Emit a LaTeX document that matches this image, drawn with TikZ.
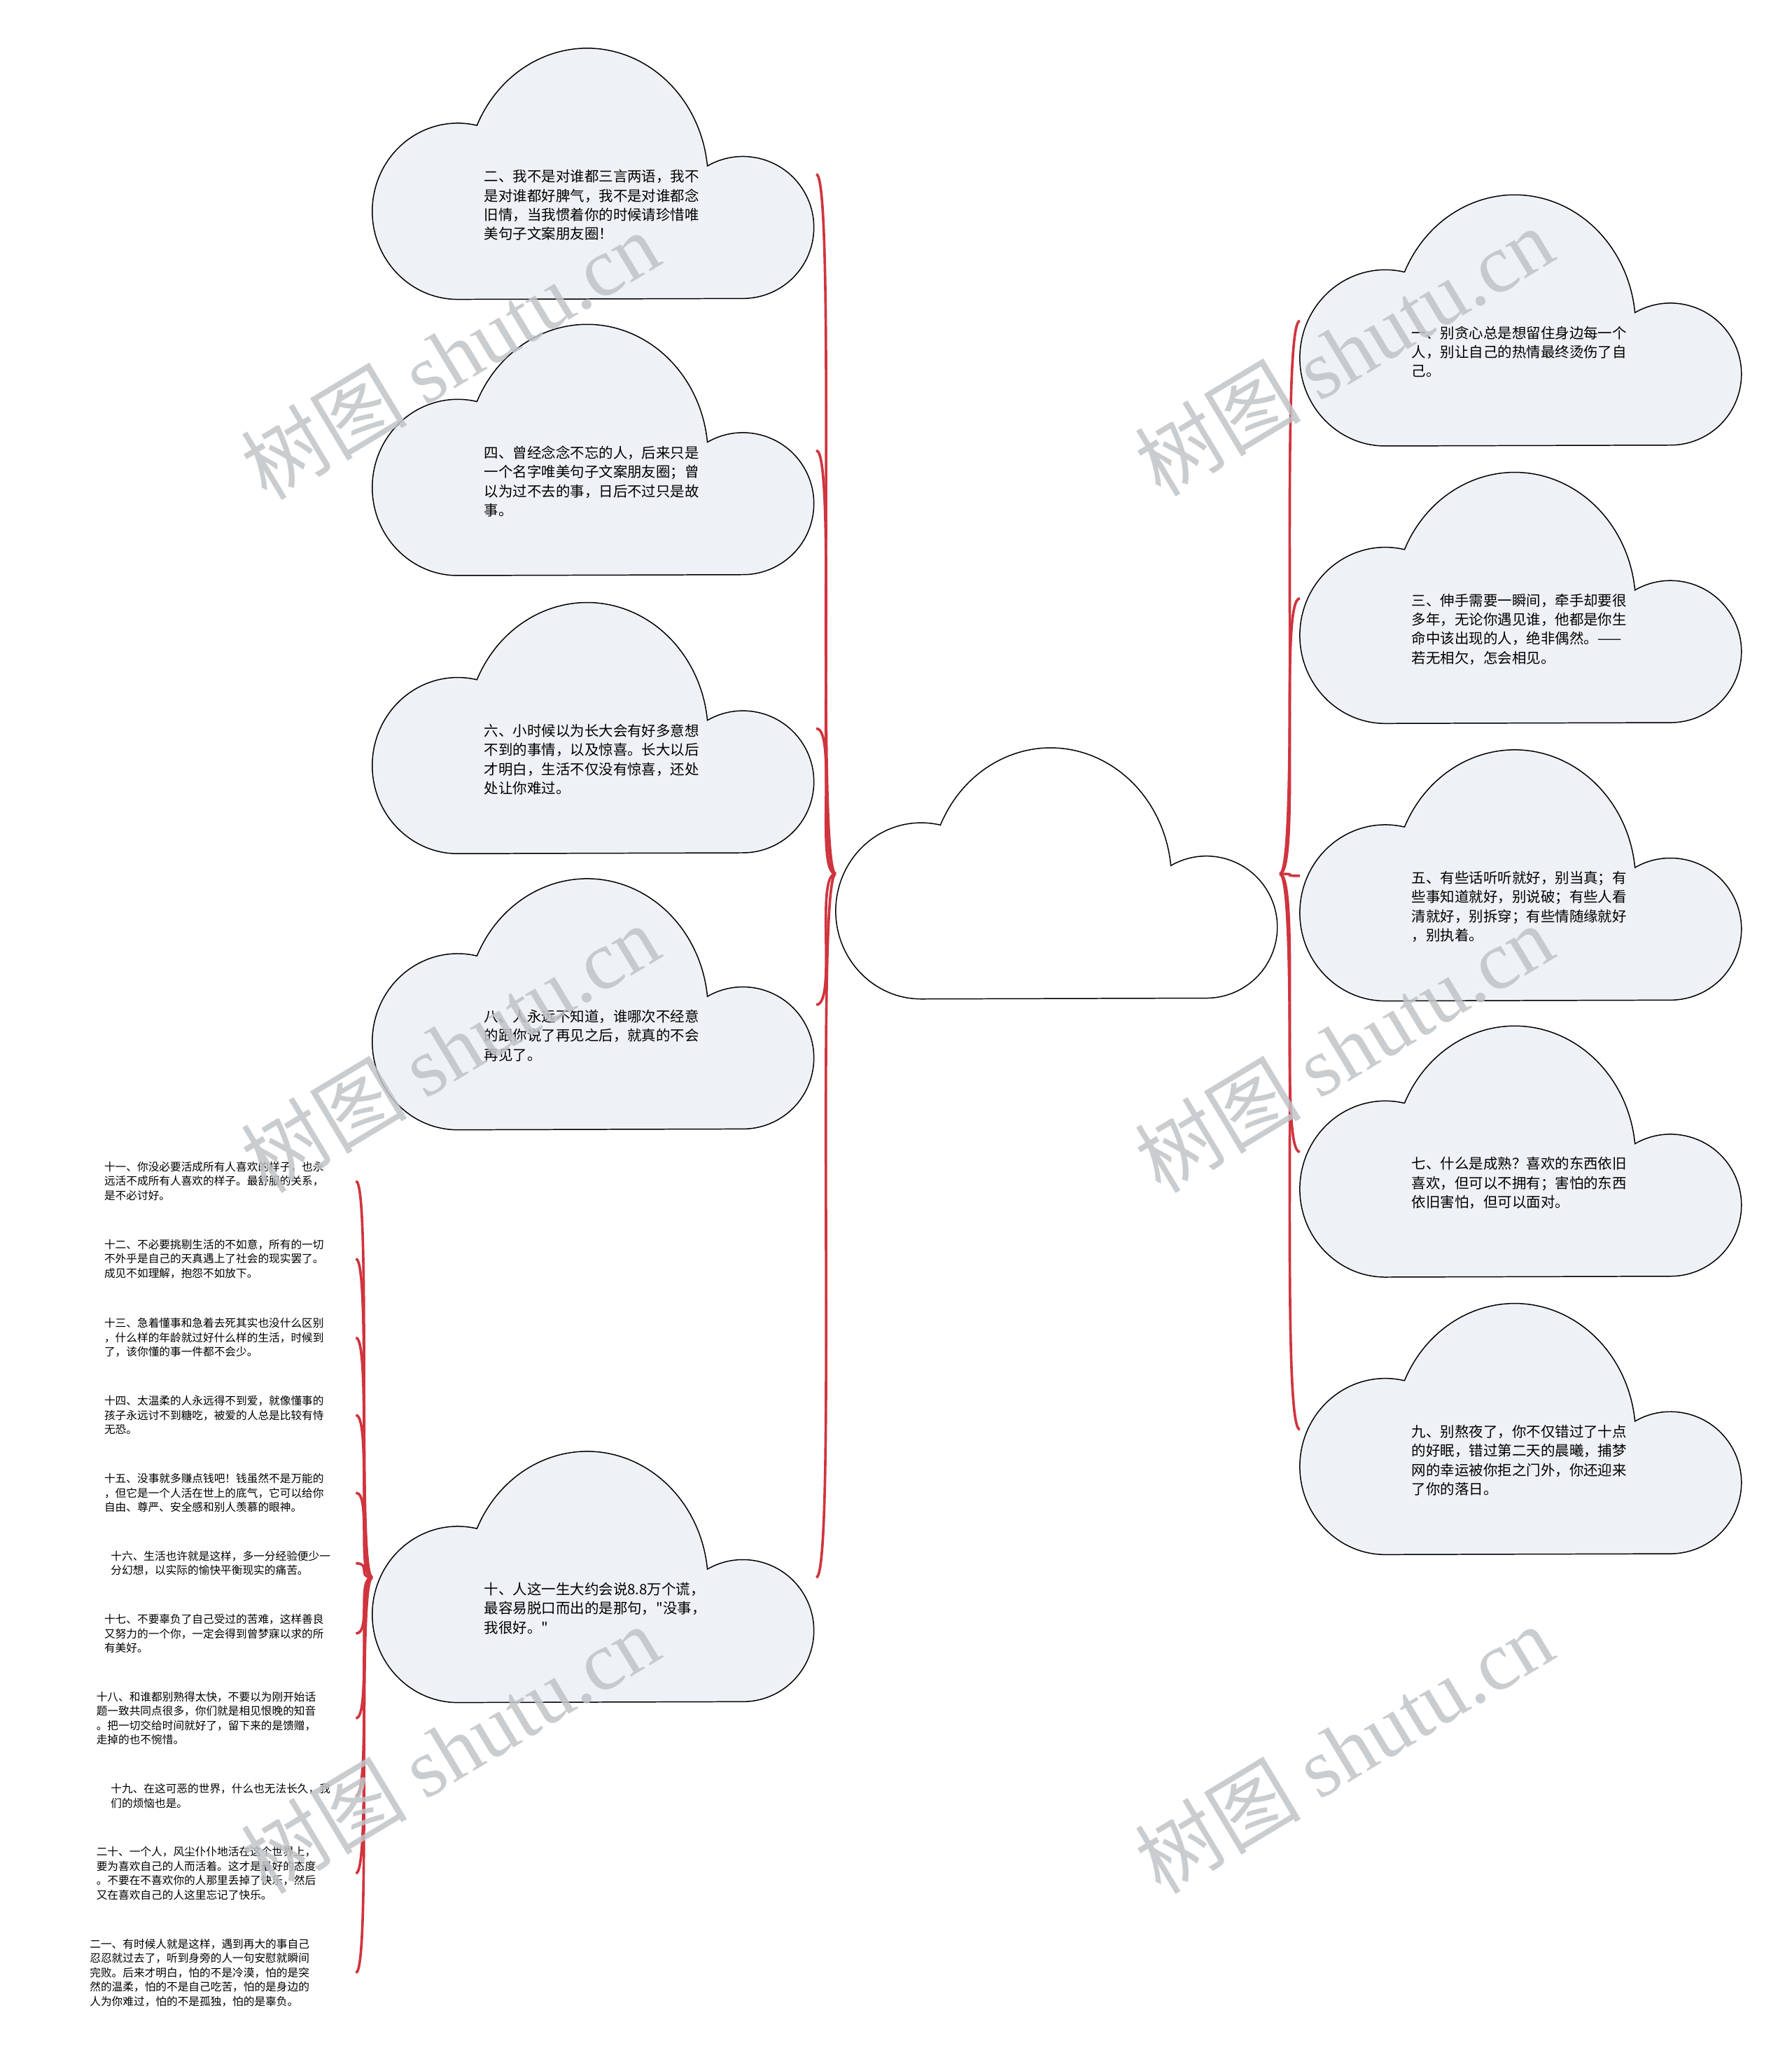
\documentclass[tikz,border=0pt]{standalone}
\usepackage{fontspec}
\setmainfont{Noto Sans CJK SC}[Ligatures=TeXOff]
\newfontfamily\latinserif{Liberation Serif}
\usepackage{tikz}
\usetikzlibrary{calc,positioning}
\definecolor{CloudFill}{RGB}{238,241,245}
\definecolor{LinkRed}{RGB}{208,52,62}
\definecolor{MarkGray}{RGB}{192,196,200}

\tikzset{
  cloudbox/.style={minimum width=67.4mm,minimum height=38.2mm,inner sep=0pt},
  cloudline/.style={draw=black,line width=0.45pt},
  cloudtext/.style={anchor=west,align=left,inner sep=0pt,font=\fontsize{6.2pt}{8.3pt}\selectfont},
  leaf/.style={anchor=north west,align=left,inner sep=0pt,font=\fontsize{4.75pt}{6.2pt}\selectfont},
  link/.style={draw=LinkRed,line width=1.1pt},
  wmark/.style={rotate=31,text=MarkGray,opacity=0.85,font=\fontsize{36pt}{38pt}\selectfont}
}

% cloud outline drawn round the box of a node
\newcommand\cloudoutline[2]{%
  \filldraw[cloudline,fill=#2] ($(#1.north west)+(65,191)$)
    arc[start angle=-270,end angle=-77,x radius=65,y radius=67]
    arc[start angle=-155.6,end angle=-6,x radius=92,y radius=100]
    arc[start angle=-120,end angle=90,x radius=54,y radius=54]
    -- cycle;
}

\begin{document}
\begin{tikzpicture}[x=0.2mm,y=-0.2mm]
\useasboundingbox (0,0) rectangle (1363,1568);

% clouds
\node[cloudbox] (c0) at (804.5,664.5) {};
\node[cloudbox] (c2) at (452,132.5) {};
\node[cloudbox] (c4) at (452,342.5) {};
\node[cloudbox] (c6) at (452,554) {};
\node[cloudbox] (c8) at (452,764) {};
\node[cloudbox] (c10) at (452,1199.5) {};
\node[cloudbox] (c1) at (1157.5,244) {};
\node[cloudbox] (c3) at (1157.5,455) {};
\node[cloudbox] (c5) at (1157.5,666) {};
\node[cloudbox] (c7) at (1157.5,876) {};
\node[cloudbox] (c9) at (1157.5,1087) {};
\cloudoutline{c0}{white}
\cloudoutline{c2}{CloudFill}
\cloudoutline{c4}{CloudFill}
\cloudoutline{c6}{CloudFill}
\cloudoutline{c8}{CloudFill}
\cloudoutline{c10}{CloudFill}
\cloudoutline{c1}{CloudFill}
\cloudoutline{c3}{CloudFill}
\cloudoutline{c5}{CloudFill}
\cloudoutline{c7}{CloudFill}
\cloudoutline{c9}{CloudFill}

% cloud texts
\node[cloudtext] (t2) at ($(c2.center)+(-84,23.5)$) {二、我不是对谁都三言两语，我不\\是对谁都好脾气，我不是对谁都念\\旧情，当我惯着你的时候请珍惜唯\\美句子文案朋友圈！};
\node[cloudtext] (t4) at ($(c4.center)+(-84,23.5)$) {四、曾经念念不忘的人，后来只是\\一个名字唯美句子文案朋友圈；曾\\以为过不去的事，日后不过只是故\\事。};
\node[cloudtext] (t6) at ($(c6.center)+(-84,23.5)$) {六、小时候以为长大会有好多意想\\不到的事情，以及惊喜。长大以后\\才明白，生活不仅没有惊喜，还处\\处让你难过。};
\node[cloudtext] (t8) at ($(c8.center)+(-84,23.5)$) {八、人永远不知道，谁哪次不经意\\的跟你说了再见之后，就真的不会\\再见了。};
\node[cloudtext] (t10) at ($(c10.center)+(-84,23.5)$) {十、人这一生大约会说8.8万个谎，\\最容易脱口而出的是那句，"没事，\\我很好。"};
\node[cloudtext] (t1) at ($(c1.center)+(-84,23.5)$) {一、别贪心总是想留住身边每一个\\人，别让自己的热情最终烫伤了自\\己。};
\node[cloudtext] (t3) at ($(c3.center)+(-84,23.5)$) {三、伸手需要一瞬间，牵手却要很\\多年，无论你遇见谁，他都是你生\\命中该出现的人，绝非偶然。——\\若无相欠，怎会相见。};
\node[cloudtext] (t5) at ($(c5.center)+(-84,23.5)$) {五、有些话听听就好，别当真；有\\些事知道就好，别说破；有些人看\\清就好，别拆穿；有些情随缘就好\\，别执着。};
\node[cloudtext] (t7) at ($(c7.center)+(-84,23.5)$) {七、什么是成熟？喜欢的东西依旧\\喜欢，但可以不拥有；害怕的东西\\依旧害怕，但可以面对。};
\node[cloudtext] (t9) at ($(c9.center)+(-84,23.5)$) {九、别熬夜了，你不仅错过了十点\\的好眠，错过第二天的晨曦，捕梦\\网的幸运被你拒之门外，你还迎来\\了你的落日。};

% leaves of ten
\node[leaf,text width=38.2mm] (s11) at (79,883) {十一、你没必要活成所有人喜欢的样子，也永\\远活不成所有人喜欢的样子。最舒服的关系，\\是不必讨好。};
\node[leaf,text width=38.2mm] (s12) at (79,942) {十二、不必要挑剔生活的不如意，所有的一切\\不外乎是自己的天真遇上了社会的现实罢了。\\成见不如理解，抱怨不如放下。};
\node[leaf,text width=38.2mm] (s13) at (79,1002) {十三、急着懂事和急着去死其实也没什么区别\\，什么样的年龄就过好什么样的生活，时候到\\了，该你懂的事一件都不会少。};
\node[leaf,text width=38.2mm] (s14) at (79,1061) {十四、太温柔的人永远得不到爱，就像懂事的\\孩子永远讨不到糖吃，被爱的人总是比较有恃\\无恐。};
\node[leaf,text width=38.2mm] (s15) at (79,1120) {十五、没事就多赚点钱吧！钱虽然不是万能的\\，但它是一个人活在世上的底气，它可以给你\\自由、尊严、安全感和别人羡慕的眼神。};
\node[leaf,text width=37.2mm] (s16) at (84,1179) {十六、生活也许就是这样，多一分经验便少一\\分幻想，以实际的愉快平衡现实的痛苦。};
\node[leaf,text width=38.2mm] (s17) at (79,1227) {十七、不要辜负了自己受过的苦难，这样善良\\又努力的一个你，一定会得到曾梦寐以求的所\\有美好。};
\node[leaf,text width=39.4mm] (s18) at (73,1286) {十八、和谁都别熟得太快，不要以为刚开始话\\题一致共同点很多，你们就是相见恨晚的知音\\。把一切交给时间就好了，留下来的是馈赠，\\走掉的也不惋惜。};
\node[leaf,text width=37.2mm] (s19) at (84,1356) {十九、在这可恶的世界，什么也无法长久，我\\们的烦恼也是。};
\node[leaf,text width=39.4mm] (s20) at (73,1404) {二十、一个人，风尘仆仆地活在这个世界上，\\要为喜欢自己的人而活着。这才是最好的态度\\。不要在不喜欢你的人那里丢掉了快乐，然后\\又在喜欢自己的人这里忘记了快乐。};
\node[leaf,text width=40.4mm] (s21) at (68,1474) {二一、有时候人就是这样，遇到再大的事自己\\忍忍就过去了，听到身旁的人一句安慰就瞬间\\完败。后来才明白，怕的不是冷漠，怕的是突\\然的温柔，怕的不是自己吃苦，怕的是身边的\\人为你难过，怕的不是孤独，怕的是辜负。};

% links
\draw[link] (c0.west) .. controls +(-16,0) and +(16,0) .. (c2.east);
\draw[link] (c0.west) .. controls +(-16,0) and +(16,0) .. (c4.east);
\draw[link] (c0.west) .. controls +(-16,0) and +(16,0) .. (c6.east);
\draw[link] (c0.west) .. controls +(-16,0) and +(16,0) .. (c8.east);
\draw[link] (c0.west) .. controls +(-16,0) and +(16,0) .. (c10.east);
\draw[link] (c0.east) .. controls +(16,0) and +(-16,0) .. (c1.west);
\draw[link] (c0.east) .. controls +(16,0) and +(-16,0) .. (c3.west);
\draw[link] (c0.east) .. controls +(16,0) and +(-16,0) .. (c5.west);
\draw[link] (c0.east) .. controls +(16,0) and +(-16,0) .. (c7.west);
\draw[link] (c0.east) .. controls +(16,0) and +(-16,0) .. (c9.west);
\draw[link] (c10.west) .. controls +(-12,0) and +(12,0) .. (s11.east);
\draw[link] (c10.west) .. controls +(-12,0) and +(12,0) .. (s12.east);
\draw[link] (c10.west) .. controls +(-12,0) and +(12,0) .. (s13.east);
\draw[link] (c10.west) .. controls +(-12,0) and +(12,0) .. (s14.east);
\draw[link] (c10.west) .. controls +(-12,0) and +(12,0) .. (s15.east);
\draw[link] (c10.west) .. controls +(-12,0) and +(12,0) .. (s16.east);
\draw[link] (c10.west) .. controls +(-12,0) and +(12,0) .. (s17.east);
\draw[link] (c10.west) .. controls +(-12,0) and +(12,0) .. (s18.east);
\draw[link] (c10.west) .. controls +(-12,0) and +(12,0) .. (s19.east);
\draw[link] (c10.west) .. controls +(-12,0) and +(12,0) .. (s20.east);
\draw[link] (c10.west) .. controls +(-12,0) and +(12,0) .. (s21.east);

% watermarks
\node[wmark] (w1) at (342,270) {树图 {\latinserif shutu.cn}};
\node[wmark] (w2) at (342,797) {树图 {\latinserif shutu.cn}};
\node[wmark] (w3) at (342,1330) {树图 {\latinserif shutu.cn}};
\node[wmark] (w4) at (1022,267) {树图 {\latinserif shutu.cn}};
\node[wmark] (w5) at (1022,797) {树图 {\latinserif shutu.cn}};
\node[wmark] (w6) at (1022,1330) {树图 {\latinserif shutu.cn}};
\end{tikzpicture}
\end{document}
